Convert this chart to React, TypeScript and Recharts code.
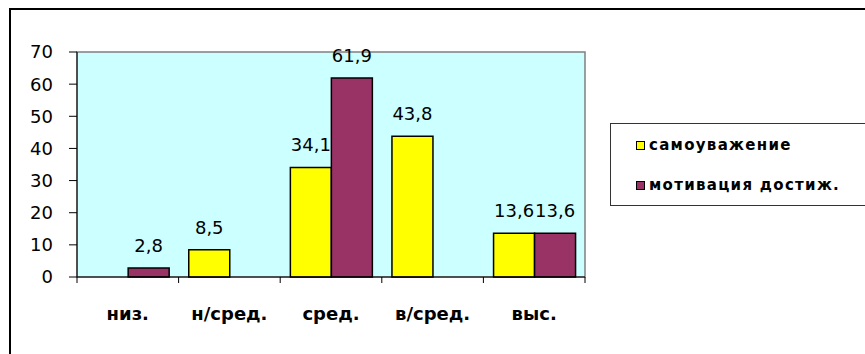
import React from "react";
import {
  BarChart,
  Bar,
  XAxis,
  YAxis,
  CartesianGrid,
  LabelList,
  Legend,
  ReferenceArea,
} from "recharts";

const categories = ["низ.", "н/сред.", "сред.", "в/сред.", "выс."];
const selfEsteem = [null, 8.5, 34.1, 43.8, 13.6];
const motivation = [2.8, null, 61.9, null, 13.6];
const yTicks = [0, 10, 20, 30, 40, 50, 60, 70];

const seriesNames = {
  selfEsteem: "самоуважение",
  motivation: "мотивация достиж.",
};
const seriesOrder = ["selfEsteem", "motivation"];

const data = categories.map((name, i) => ({
  name,
  selfEsteem: selfEsteem[i],
  motivation: motivation[i],
}));

const FONT = "'DejaVu Sans', Verdana, sans-serif";

const fmt = (v: number) => String(v).replace(".", ",");

// value above each bar, comma as decimal separator
const ValueLabel = (props: any) => {
  const { x, y, width, value } = props;
  if (value === null || value === undefined) return null;
  return (
    <text
      x={Number(x) + Number(width) / 2}
      y={Number(y) - 16}
      textAnchor="middle"
      fontFamily={FONT}
      fontSize={18}
      fill="#000"
    >
      {fmt(value)}
    </text>
  );
};

// category label plus tick marks on the category boundaries
const CategoryTick = (props: any) => {
  const { x, y, payload, index, visibleTicksCount } = props;
  const half = payload?.offset ?? 0;
  const axisY = y - 6;
  const last = index === visibleTicksCount - 1;
  return (
    <g>
      <line x1={x - half} x2={x - half} y1={axisY} y2={axisY + 6} stroke="#000" />
      {last && (
        <line x1={x + half} x2={x + half} y1={axisY} y2={axisY + 6} stroke="#000" />
      )}
      <text
        x={x}
        y={y + 37}
        textAnchor="middle"
        fontFamily={FONT}
        fontSize={18}
        fontWeight="bold"
        fill="#000"
      >
        {payload.value}
      </text>
    </g>
  );
};

const LegendBox = (props: any) => {
  const items = [...(props.payload || [])].sort(
    (a: any, b: any) => seriesOrder.indexOf(a.dataKey) - seriesOrder.indexOf(b.dataKey)
  );
  return (
    <div
      style={{
        position: "absolute",
        left: 0,
        top: 0,
        width: 270,
        height: 83,
        border: "1.5px solid #333",
        background: "#fff",
        boxSizing: "border-box",
      }}
    >
      {items.map((item: any, i: number) => (
        <div
          key={item.value}
          style={{
            position: "absolute",
            left: 25,
            top: 11 + i * 40,
            display: "flex",
            alignItems: "center",
            height: 20,
          }}
        >
          <span
            style={{
              width: 7,
              height: 7,
              border: "1.5px solid #000",
              background: item.color,
              marginRight: 4,
            }}
          />
          <span
            style={{
              fontFamily: FONT,
              fontSize: 15,
              fontWeight: "bold",
              letterSpacing: "1.3px",
              color: "#000",
            }}
          >
            {item.value}
          </span>
        </div>
      ))}
    </div>
  );
};

export default function App() {
  return (
    <div
      style={{
        position: "absolute",
        left: 0,
        top: 0,
        width: 865,
        height: 354,
        overflow: "hidden",
        background: "#fff",
      }}
    >
      <div
        style={{
          position: "absolute",
          left: 9,
          top: 8,
          width: 900,
          height: 400,
          border: "2px solid #000",
        }}
      />
      <div style={{ position: "absolute", left: 0, top: 0 }}>
        <BarChart
          width={865}
          height={354}
          data={data}
          margin={{ top: 52, right: 280, bottom: 37, left: 0 }}
          barCategoryGap="10%"
          barGap={0}
        >
          <CartesianGrid fill="#CCFFFF" horizontal={false} vertical={false} />
          <ReferenceArea y1={0} y2={70} fill="none" stroke="#808080" strokeWidth={1.5} />
          <XAxis
            dataKey="name"
            height={40}
            axisLine={{ stroke: "#000" }}
            tickLine={false}
            tickSize={6}
            tickMargin={0}
            interval={0}
            tick={<CategoryTick />}
          />
          <YAxis
            width={77}
            domain={[0, 70]}
            ticks={yTicks}
            interval={0}
            axisLine={{ stroke: "#000" }}
            tickLine={{ stroke: "#000" }}
            tickSize={8}
            tickMargin={16}
            tick={{ fill: "#000", fontSize: 18, fontFamily: FONT }}
          />
          <Legend
            layout="horizontal"
            align="center"
            verticalAlign="middle"
            wrapperStyle={{ left: 610, top: 123, width: 270, height: 83 }}
            content={<LegendBox />}
          />
          <Bar
            dataKey="selfEsteem"
            name={seriesNames.selfEsteem}
            fill="#FFFF00"
            stroke="#000"
            strokeWidth={1.5}
            isAnimationActive={false}
          >
            <LabelList dataKey="selfEsteem" content={<ValueLabel />} />
          </Bar>
          <Bar
            dataKey="motivation"
            name={seriesNames.motivation}
            fill="#993366"
            stroke="#000"
            strokeWidth={1.5}
            isAnimationActive={false}
          >
            <LabelList dataKey="motivation" content={<ValueLabel />} />
          </Bar>
        </BarChart>
      </div>
    </div>
  );
}
